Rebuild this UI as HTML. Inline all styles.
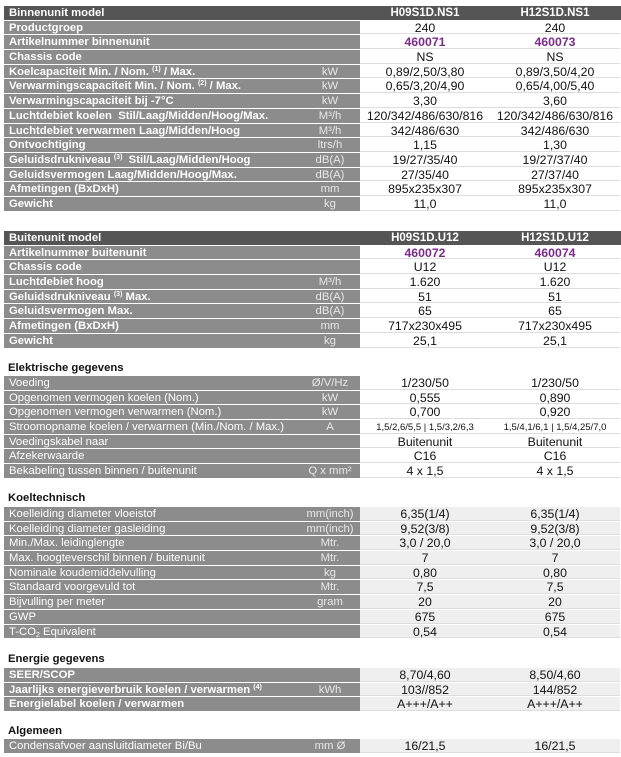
<!DOCTYPE html>
<html><head><meta charset="utf-8"><style>
*{margin:0;padding:0;box-sizing:border-box}
body{width:621px;height:757px;background:#fff;position:relative;font-family:"Liberation Sans",Arial,sans-serif;font-size:11.3px;color:#111;overflow:hidden}
.sec{position:absolute;left:4px;width:617px}
.r{display:flex;height:14.7px;border-bottom:1px solid #fff}
.r>div{white-space:nowrap;overflow:visible;line-height:15px;height:13.7px}
.l{width:296px;background:#8c8c8c;color:#fff;padding-left:5px}
.u{width:60px;background:#8c8c8c;color:#e8e8e8;text-align:center}
.v{width:130px;text-align:center;border-bottom:1px solid #ddd;font-size:12.3px}
.b .l{font-weight:bold}
.h{background:#555}
.h .l,.h .u{background:#555;font-weight:bold}
.h .v{color:#fff;font-weight:bold;border:none;font-size:11.5px}
.g .v{background:#efefef}
.p{color:#7b2a8a;font-weight:bold}
.t{position:absolute;left:8px;font-weight:bold;font-size:11.3px}
.v.sm{font-size:9.5px}
sup,sub{font-size:7px;line-height:0;position:relative;vertical-align:baseline}
sup{top:-4px}
sub{top:2px}
</style></head><body>
<div class="sec b" style="top:6px">
<div class="r h"><div class="l">Binnenunit model</div><div class="u"></div><div class="v">H09S1D.NS1</div><div class="v">H12S1D.NS1</div></div>
<div class="r"><div class="l">Productgroep</div><div class="u"></div><div class="v">240</div><div class="v">240</div></div>
<div class="r"><div class="l">Artikelnummer binnenunit</div><div class="u"></div><div class="v p">460071</div><div class="v p">460073</div></div>
<div class="r"><div class="l">Chassis code</div><div class="u"></div><div class="v">NS</div><div class="v">NS</div></div>
<div class="r"><div class="l">Koelcapaciteit Min. / Nom. <sup>(1)</sup> / Max.</div><div class="u">kW</div><div class="v">0,89/2,50/3,80</div><div class="v">0,89/3,50/4,20</div></div>
<div class="r"><div class="l">Verwarmingscapaciteit Min. / Nom. <sup>(2)</sup> / Max.</div><div class="u">kW</div><div class="v">0,65/3,20/4,90</div><div class="v">0,65/4,00/5,40</div></div>
<div class="r"><div class="l">Verwarmingscapaciteit bij -7°C</div><div class="u">kW</div><div class="v">3,30</div><div class="v">3,60</div></div>
<div class="r"><div class="l">Luchtdebiet koelen &nbsp;Stil/Laag/Midden/Hoog/Max.</div><div class="u">M³/h</div><div class="v">120/342/486/630/816</div><div class="v">120/342/486/630/816</div></div>
<div class="r"><div class="l">Luchtdebiet verwarmen Laag/Midden/Hoog</div><div class="u">M³/h</div><div class="v">342/486/630</div><div class="v">342/486/630</div></div>
<div class="r"><div class="l">Ontvochtiging</div><div class="u">ltrs/h</div><div class="v">1,15</div><div class="v">1,30</div></div>
<div class="r"><div class="l">Geluidsdrukniveau <sup>(3)</sup> &nbsp;Stil/Laag/Midden/Hoog</div><div class="u">dB(A)</div><div class="v">19/27/35/40</div><div class="v">19/27/37/40</div></div>
<div class="r"><div class="l">Geluidsvermogen Laag/Midden/Hoog/Max.</div><div class="u">dB(A)</div><div class="v">27/35/40</div><div class="v">27/37/40</div></div>
<div class="r"><div class="l">Afmetingen (BxDxH)</div><div class="u">mm</div><div class="v">895x235x307</div><div class="v">895x235x307</div></div>
<div class="r"><div class="l">Gewicht</div><div class="u">kg</div><div class="v">11,0</div><div class="v">11,0</div></div>
</div>

<div class="sec b" style="top:231px">
<div class="r h"><div class="l">Buitenunit model</div><div class="u"></div><div class="v">H09S1D.U12</div><div class="v">H12S1D.U12</div></div>
<div class="r"><div class="l">Artikelnummer buitenunit</div><div class="u"></div><div class="v p">460072</div><div class="v p">460074</div></div>
<div class="r"><div class="l">Chassis code</div><div class="u"></div><div class="v">U12</div><div class="v">U12</div></div>
<div class="r"><div class="l">Luchtdebiet hoog</div><div class="u">M³/h</div><div class="v">1.620</div><div class="v">1.620</div></div>
<div class="r"><div class="l">Geluidsdrukniveau <sup>(3)</sup> Max.</div><div class="u">dB(A)</div><div class="v">51</div><div class="v">51</div></div>
<div class="r"><div class="l">Geluidsvermogen Max.</div><div class="u">dB(A)</div><div class="v">65</div><div class="v">65</div></div>
<div class="r"><div class="l">Afmetingen (BxDxH)</div><div class="u">mm</div><div class="v">717x230x495</div><div class="v">717x230x495</div></div>
<div class="r"><div class="l">Gewicht</div><div class="u">kg</div><div class="v">25,1</div><div class="v">25,1</div></div>
</div>

<div class="t" style="top:362px">Elektrische gegevens</div>
<div class="sec" style="top:376px">
<div class="r"><div class="l">Voeding</div><div class="u">Ø/V/Hz</div><div class="v">1/230/50</div><div class="v">1/230/50</div></div>
<div class="r"><div class="l">Opgenomen vermogen koelen (Nom.)</div><div class="u">kW</div><div class="v">0,555</div><div class="v">0,890</div></div>
<div class="r"><div class="l">Opgenomen vermogen verwarmen (Nom.)</div><div class="u">kW</div><div class="v">0,700</div><div class="v">0,920</div></div>
<div class="r"><div class="l">Stroomopname koelen / verwarmen (Min./Nom. / Max.)</div><div class="u">A</div><div class="v sm">1,5/2,6/5,5 | 1,5/3,2/6,3</div><div class="v sm">1,5/4,1/6,1 | 1,5/4,25/7,0</div></div>
<div class="r"><div class="l">Voedingskabel naar</div><div class="u"></div><div class="v">Buitenunit</div><div class="v">Buitenunit</div></div>
<div class="r"><div class="l">Afzekerwaarde</div><div class="u"></div><div class="v">C16</div><div class="v">C16</div></div>
<div class="r"><div class="l">Bekabeling tussen binnen / buitenunit</div><div class="u">Q x mm²</div><div class="v">4 x 1,5</div><div class="v">4 x 1,5</div></div>
</div>

<div class="t" style="top:492px">Koeltechnisch</div>
<div class="sec g" style="top:507px">
<div class="r"><div class="l">Koelleiding diameter vloeistof</div><div class="u">mm(inch)</div><div class="v">6,35(1/4)</div><div class="v">6,35(1/4)</div></div>
<div class="r"><div class="l">Koelleiding diameter gasleiding</div><div class="u">mm(inch)</div><div class="v">9,52(3/8)</div><div class="v">9,52(3/8)</div></div>
<div class="r"><div class="l">Min./Max. leidinglengte</div><div class="u">Mtr.</div><div class="v">3,0 / 20,0</div><div class="v">3,0 / 20,0</div></div>
<div class="r"><div class="l">Max. hoogteverschil binnen / buitenunit</div><div class="u">Mtr.</div><div class="v">7</div><div class="v">7</div></div>
<div class="r"><div class="l">Nominale koudemiddelvulling</div><div class="u">kg</div><div class="v">0,80</div><div class="v">0,80</div></div>
<div class="r"><div class="l">Standaard voorgevuld tot</div><div class="u">Mtr.</div><div class="v">7,5</div><div class="v">7,5</div></div>
<div class="r"><div class="l">Bijvulling per meter</div><div class="u">gram</div><div class="v">20</div><div class="v">20</div></div>
<div class="r"><div class="l">GWP</div><div class="u"></div><div class="v">675</div><div class="v">675</div></div>
<div class="r"><div class="l">T-CO<sub>2</sub> Equivalent</div><div class="u"></div><div class="v">0,54</div><div class="v">0,54</div></div>
</div>

<div class="t" style="top:653px">Energie gegevens</div>
<div class="sec b g" style="top:668px">
<div class="r"><div class="l">SEER/SCOP</div><div class="u"></div><div class="v">8,70/4,60</div><div class="v">8,50/4,60</div></div>
<div class="r"><div class="l">Jaarlijks energieverbruik koelen / verwarmen <sup>(4)</sup></div><div class="u">kWh</div><div class="v">103//852</div><div class="v">144/852</div></div>
<div class="r"><div class="l">Energielabel koelen / verwarmen</div><div class="u"></div><div class="v">A+++/A++</div><div class="v">A+++/A++</div></div>
</div>

<div class="t" style="top:725px">Algemeen</div>
<div class="sec g" style="top:739px">
<div class="r"><div class="l">Condensafvoer aansluitdiameter Bi/Bu</div><div class="u">mm Ø</div><div class="v">16/21,5</div><div class="v">16/21,5</div></div>
</div>
</body></html>
